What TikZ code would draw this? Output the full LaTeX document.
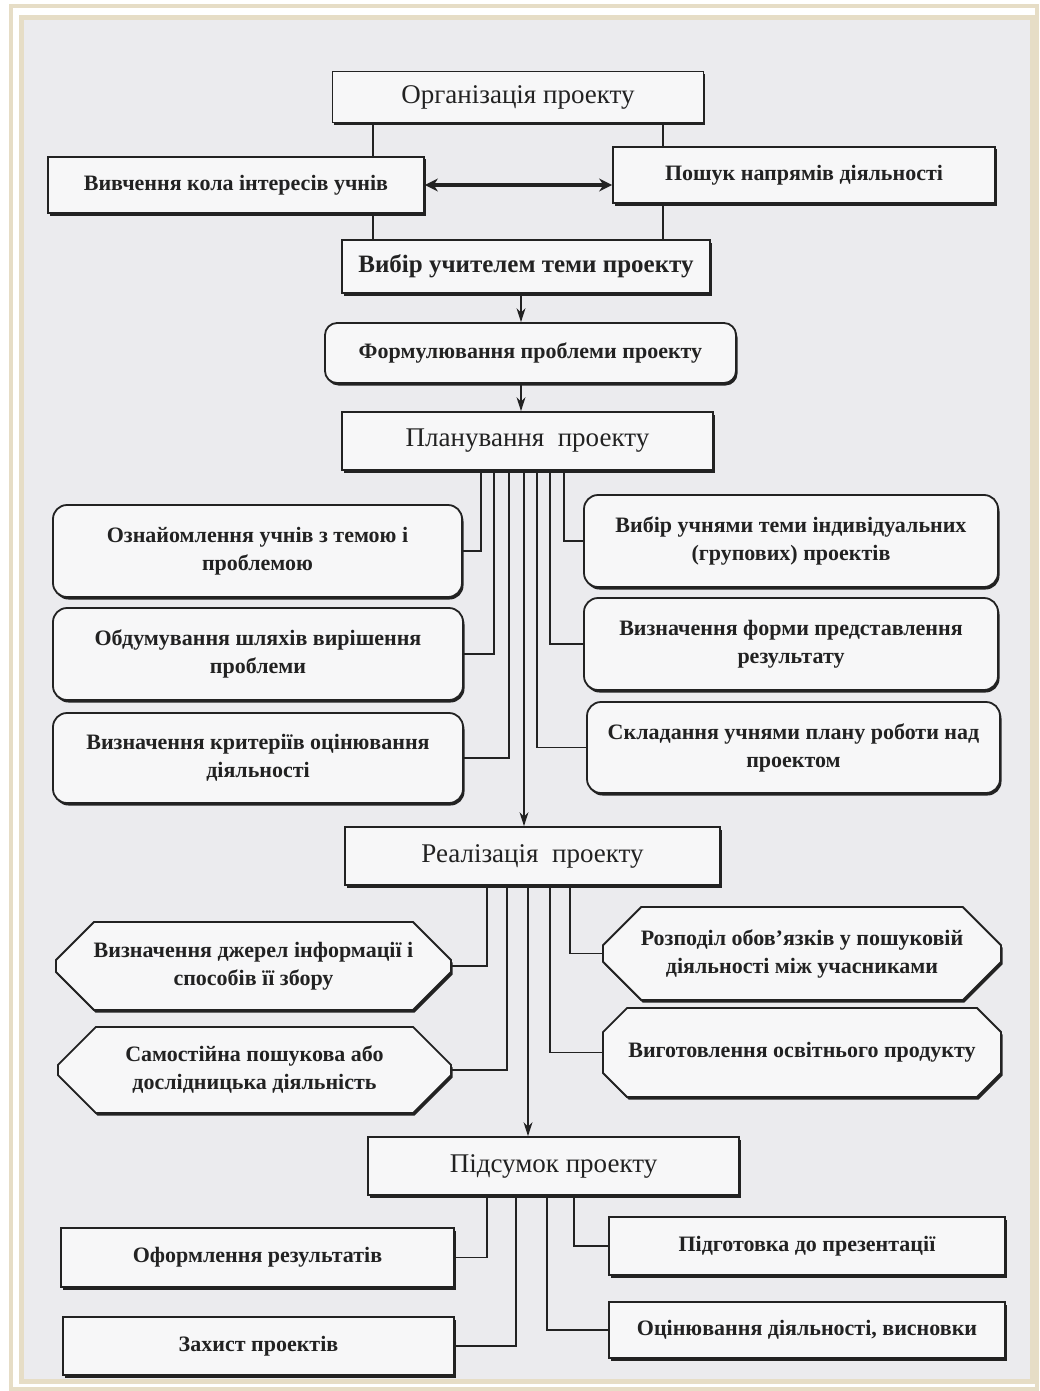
\documentclass[tikz,border=0pt]{standalone}
\usepackage{fontspec}
\setmainfont{Liberation Serif}
\usetikzlibrary{arrows.meta,positioning,shapes.misc,shadows}
\definecolor{paper}{HTML}{EBEBEE}
\definecolor{frame}{HTML}{E6DDC6}
\definecolor{ink}{HTML}{222222}
\tikzset{
	stage/.style={rectangle, draw=ink, line width=1.8pt, fill=paper!40!white, text=ink, align=center,
		font=\fontsize{27}{30}\selectfont,
		drop shadow={shadow xshift=1.5pt, shadow yshift=-2.5pt, fill=ink, opacity=1}},
	boldstage/.style={stage, font=\fontsize{25}{28}\selectfont\bfseries},
	sidebox/.style={stage, font=\fontsize{22}{28}\selectfont\bfseries},
	roundbox/.style={sidebox, rounded corners=14pt},
	cutbox/.style={sidebox, chamfered rectangle, chamfered rectangle xsep=25pt, chamfered rectangle ysep=24pt, inner ysep=-10pt},
	link/.style={draw=ink, line width=1.2pt},
	arr/.style={link, -{Stealth[length=14pt, width=9pt]}},
	both/.style={draw=ink, line width=3.6pt, {Stealth[length=13pt, width=13pt]}-{Stealth[length=13pt, width=13pt]}}
}
\begin{document}
\begin{tikzpicture}[x=1pt, y=-1pt]
	\useasboundingbox (0,0) rectangle (1040,1391);
	% page and frame
	\fill[white] (0,0) rectangle (1040,1391);
	\draw[frame, line width=4pt] (11,6) rectangle (1037,1389);
	\draw[frame, line width=5pt, fill=paper] (21,17.5) rectangle (1032,1381.5);

	% organisation
	\node[stage, minimum width=371pt, minimum height=51pt] (org) at (518,97) {Організація проекту};
	\node[sidebox, minimum width=376pt, minimum height=56pt] (vyv) at (236,185) {Вивчення кола інтересів учнів};
	\node[sidebox, minimum width=382pt, minimum height=56pt] (posh) at (804,175) {Пошук напрямів діяльності};
	\node[boldstage, minimum width=368pt, minimum height=53pt] (vybir) at (526,266.5) {Вибір учителем теми проекту};
	\node[roundbox, rounded corners=12pt, minimum width=411pt, minimum height=60pt] (form) at (530.5,353) {Формулювання проблеми проекту};

	% planning
	\node[stage, minimum width=371pt, minimum height=58pt] (plan) at (527.5,441) {Планування~~проекту};
	\node[roundbox, minimum width=409pt, minimum height=92pt] (a1) at (257.5,551) {Ознайомлення учнів з темою і\\проблемою};
	\node[roundbox, minimum width=410pt, minimum height=92pt] (a2) at (258,654) {Обдумування шляхів вирішення\\проблеми};
	\node[roundbox, minimum width=410pt, minimum height=90pt] (a3) at (258,758) {Визначення критеріїв оцінювання\\діяльності};
	\node[roundbox, minimum width=414pt, minimum height=92pt] (b1) at (791,541) {Вибір учнями теми індивідуальних\\(групових) проектів};
	\node[roundbox, minimum width=414pt, minimum height=92pt] (b2) at (791,644) {Визначення форми представлення\\результату};
	\node[roundbox, minimum width=413pt, minimum height=91pt] (b3) at (793.5,747.5) {Складання учнями плану роботи над\\проектом};

	% realisation
	\node[stage, minimum width=375pt, minimum height=58pt] (real) at (532.5,856) {Реалізація~~проекту};
	\node[cutbox, minimum width=395pt, minimum height=88pt] (c1) at (253.5,966) {Визначення джерел інформації і\\способів її збору};
	\node[cutbox, minimum width=393pt, minimum height=86pt] (c2) at (254.5,1070) {Самостійна пошукова або\\дослідницька діяльність};
	\node[cutbox, minimum width=398pt, minimum height=93pt] (d1) at (802,953.5) {Розподіл обов’язків у пошуковій\\діяльності між учасниками};
	\node[cutbox, minimum width=398pt, minimum height=89pt] (d2) at (802,1052.5) {Виготовлення освітнього продукту};

	% summary
	\node[stage, minimum width=371pt, minimum height=58pt] (pids) at (553.5,1166) {Підсумок проекту};
	\node[sidebox, minimum width=393pt, minimum height=59pt] (e1) at (257.5,1257.5) {Оформлення результатів};
	\node[sidebox, minimum width=391pt, minimum height=58pt] (e2) at (258.5,1346) {Захист проектів};
	\node[sidebox, minimum width=396pt, minimum height=58pt] (f1) at (807,1246) {Підготовка до презентації};
	\node[sidebox, minimum width=396pt, minimum height=56pt] (f2) at (807,1330) {Оцінювання діяльності, висновки};

	% connectors
	\draw[link] ([xshift=-145pt]org.south) -- ([xshift=-145pt]org.south |- vyv.north);
	\draw[link] ([xshift=145pt]org.south) -- ([xshift=145pt]org.south |- posh.north);
	\draw[link] ([xshift=-153pt]vybir.north) -- ([xshift=-153pt]vybir.north |- vyv.south);
	\draw[link] ([xshift=137pt]vybir.north) -- ([xshift=137pt]vybir.north |- posh.south);
	\draw[both] (vyv.east) -- (vyv.east -| posh.west);

	\draw[arr] ([xshift=-5pt]vybir.south) -- ([xshift=-5pt]vybir.south |- form.north);
	\draw[arr] ([xshift=-9.5pt]form.south) -- ([xshift=-9.5pt]form.south |- plan.north);
	\draw[arr] ([xshift=-3.5pt]plan.south) -- ([xshift=-3.5pt]plan.south |- real.north);
	\draw[arr] ([xshift=-4.5pt]real.south) -- ([xshift=-4.5pt]real.south |- pids.north);

	\foreach \dx/\tgt/\sd in {-46.5/a1/east, -33.5/a2/east, -18.5/a3/east, 9.5/b3/west, 22.5/b2/west, 36.5/b1/west}
		\draw[link] ([xshift=\dx pt]plan.south) |- (\tgt.\sd);
	\foreach \dx/\tgt/\sd in {-45.5/c1/east, -25.5/c2/east, 17.5/d2/west, 37.5/d1/west}
		\draw[link] ([xshift=\dx pt]real.south) |- (\tgt.\sd);
	\foreach \dx/\tgt/\sd in {-66.5/e1/east, -37.5/e2/east, -6.5/f2/west, 20.5/f1/west}
		\draw[link] ([xshift=\dx pt]pids.south) |- (\tgt.\sd);
\end{tikzpicture}
\end{document}
